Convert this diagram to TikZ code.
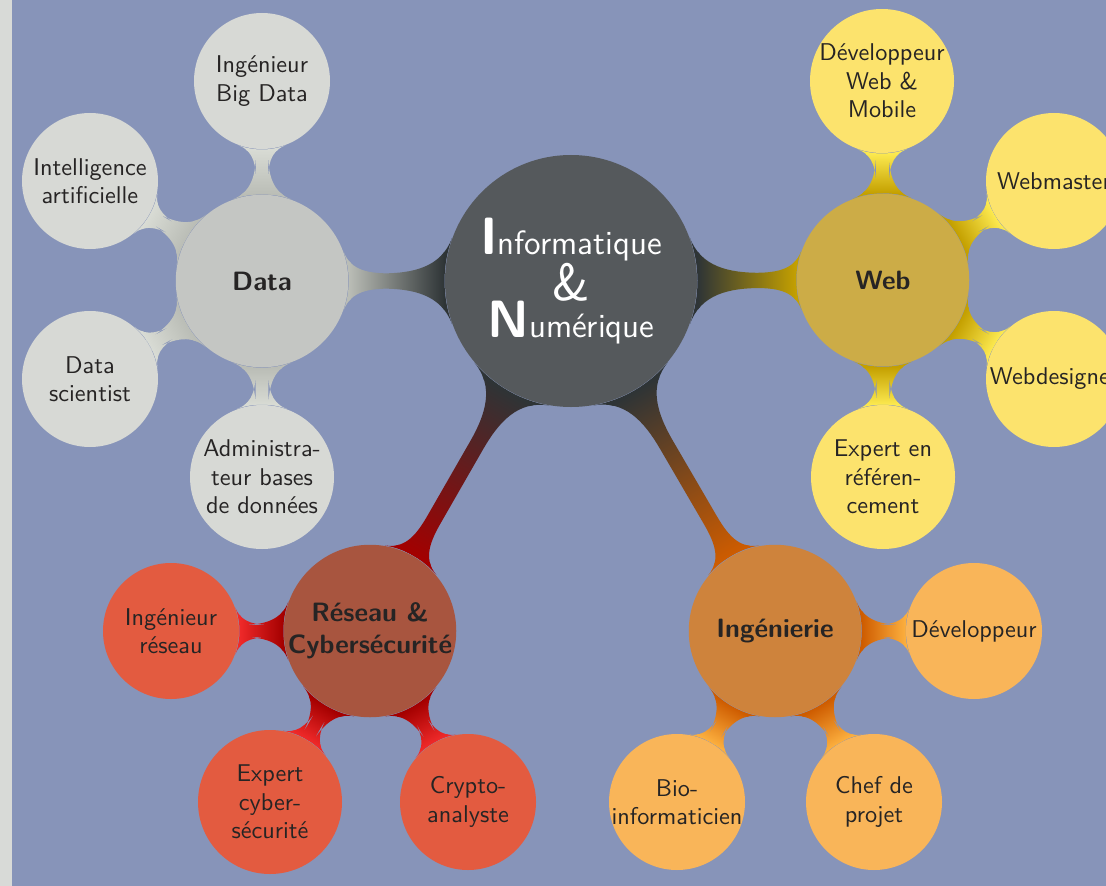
\documentclass[tikz,border=0pt]{standalone}
\usetikzlibrary{mindmap}
\definecolor{bgblue}{HTML}{8794B9}
\definecolor{stripgray}{HTML}{D8DAD7}
\definecolor{txtdark}{HTML}{262424}
% tango connector colours
\definecolor{alsix}{HTML}{2E3436}
\definecolor{althree}{HTML}{BABDB6}
\definecolor{altwo}{HTML}{D8DBD4}
\definecolor{butthree}{HTML}{C4A000}
\definecolor{butone}{HTML}{FCE94F}
\definecolor{redthree}{HTML}{A40000}
\definecolor{redone}{HTML}{EF2929}
\definecolor{orathree}{HTML}{CE5C00}
\definecolor{oraone}{HTML}{FCAF3E}
% node fills
\definecolor{rootfill}{HTML}{55595C}
\definecolor{datafill}{HTML}{C4C6C3}
\definecolor{datakid}{HTML}{D7D9D5}
\definecolor{webfill}{HTML}{CCAC47}
\definecolor{webkid}{HTML}{FCE36D}
\definecolor{resfill}{HTML}{A8553F}
\definecolor{reskid}{HTML}{E35B40}
\definecolor{ingfill}{HTML}{CE833C}
\definecolor{ingkid}{HTML}{F9B559}
\pgfdeclarelayer{back}
\pgfdeclarelayer{conn}
\pgfsetlayers{back,conn,main}
\begin{document}
\begin{tikzpicture}[x=0.4pt,y=-0.4pt,font=\sffamily,
  cpt/.style={circle,inner sep=-2pt,align=center,text=txtdark},
  rootc/.style={cpt,fill=rootfill,text=white,minimum size=100.8pt,
    font=\sffamily\fontsize{13.5}{15}\selectfont},
  lone/.style={cpt,minimum size=69pt,font=\sffamily\bfseries\fontsize{10.6}{12.8}\selectfont},
  ltwo/.style={cpt,minimum size=54.4pt,font=\sffamily\fontsize{9.7}{11.4}\selectfont},
  lthree/.style={ltwo,minimum size=57.6pt},
  barone/.style={line width=6pt},
  bartwo/.style={line width=4.8pt}]
\useasboundingbox (0,0) rectangle (1106,886);
\clip (0,0) rectangle (1106,886);
\begin{pgfonlayer}{back}
\fill[bgblue] (0,0) rectangle (1106,886);
\fill[stripgray] (0,0) rectangle (12,886);
\end{pgfonlayer}

% root
\node[rootc] (root) at (571,281) {{\fontsize{21}{21}\selectfont\bfseries I}nformatique\\{\fontsize{21}{21}\selectfont\&}\\{\fontsize{21}{21}\selectfont\bfseries N}umérique};

% level 1
\node[lone,fill=datafill] (data) at (262,281) {Data};
\node[lone,fill=webfill] (web) at (883,280) {Web};
\node[lone,fill=resfill] (res) at (370,631) {Réseau \&\\Cybersécurité};
\node[lone,fill=ingfill] (ing) at (775,631) {Ingénierie};

% data children
\node[ltwo,fill=datakid] (bigdata) at (262,81) {Ingénieur\\Big Data};
\node[ltwo,fill=datakid] (ia) at (90,181) {Intelligence\\artificielle};
\node[ltwo,fill=datakid] (ds) at (90,379) {Data\\scientist};
\node[lthree,fill=datakid] (admin) at (262,477) {Administra-\\teur bases\\de données};

% web children
\node[lthree,fill=webkid] (devweb) at (882,81) {Développeur\\Web \&\\Mobile};
\node[ltwo,fill=webkid] (wmaster) at (1054,181) {Webmaster};
\node[ltwo,fill=webkid] (wdesign) at (1054,379) {Webdesigner};
\node[lthree,fill=webkid] (seo) at (883,477) {Expert en\\référen-\\cement};

% reseau children
\node[ltwo,fill=reskid] (ingres) at (171,631) {Ingénieur\\réseau};
\node[lthree,fill=reskid] (cyber) at (270,802) {Expert\\cyber-\\sécurité};
\node[ltwo,fill=reskid] (crypto) at (468,802) {Crypto-\\analyste};

% ingenierie children
\node[ltwo,fill=ingkid] (dev) at (974,631) {Développeur};
\node[ltwo,fill=ingkid] (bio) at (677,802) {Bio-\\informaticien};
\node[ltwo,fill=ingkid] (chef) at (874,802) {Chef de\\projet};

\begin{pgfonlayer}{conn}
\path[barone] (root) to[circle connection bar switch color=from (alsix) to (althree)] (data);
\path[barone] (root) to[circle connection bar switch color=from (alsix) to (butthree)] (web);
\path[barone] (root) to[circle connection bar switch color=from (alsix) to (redthree)] (res);
\path[barone] (root) to[circle connection bar switch color=from (alsix) to (orathree)] (ing);

\path[bartwo] (data) to[circle connection bar switch color=from (althree) to (altwo)] (bigdata);
\path[bartwo] (data) to[circle connection bar switch color=from (althree) to (altwo)] (ia);
\path[bartwo] (data) to[circle connection bar switch color=from (althree) to (altwo)] (ds);
\path[bartwo] (data) to[circle connection bar switch color=from (althree) to (altwo)] (admin);

\path[bartwo] (web) to[circle connection bar switch color=from (butthree) to (butone)] (devweb);
\path[bartwo] (web) to[circle connection bar switch color=from (butthree) to (butone)] (wmaster);
\path[bartwo] (web) to[circle connection bar switch color=from (butthree) to (butone)] (wdesign);
\path[bartwo] (web) to[circle connection bar switch color=from (butthree) to (butone)] (seo);

\path[bartwo] (res) to[circle connection bar switch color=from (redthree) to (redone)] (ingres);
\path[bartwo] (res) to[circle connection bar switch color=from (redthree) to (redone)] (cyber);
\path[bartwo] (res) to[circle connection bar switch color=from (redthree) to (redone)] (crypto);

\path[bartwo] (ing) to[circle connection bar switch color=from (orathree) to (oraone)] (dev);
\path[bartwo] (ing) to[circle connection bar switch color=from (orathree) to (oraone)] (bio);
\path[bartwo] (ing) to[circle connection bar switch color=from (orathree) to (oraone)] (chef);
\end{pgfonlayer}
\end{tikzpicture}
\end{document}
